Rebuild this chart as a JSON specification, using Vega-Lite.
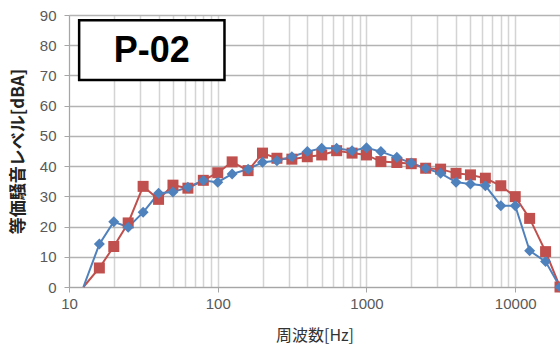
{
  "$schema": "https://vega.github.io/schema/vega-lite/v6.json",
  "autosize": "none",
  "width": 491,
  "height": 272,
  "padding": {"left": 69, "top": 15, "right": 0, "bottom": 62},
  "background": "white",
  "config": {"view": {"stroke": null}, "font": "Liberation Sans"},
  "datasets": {
    "series": [
      {"f": 12.5, "s": "A", "v": 0}, {"f": 16, "s": "A", "v": 6.3}, {"f": 20, "s": "A", "v": 13.4}, {"f": 25, "s": "A", "v": 21.2},
      {"f": 31.5, "s": "A", "v": 33.3}, {"f": 40, "s": "A", "v": 29}, {"f": 50, "s": "A", "v": 33.7}, {"f": 63, "s": "A", "v": 32.7},
      {"f": 80, "s": "A", "v": 35.3}, {"f": 100, "s": "A", "v": 37.8}, {"f": 125, "s": "A", "v": 41.4}, {"f": 160, "s": "A", "v": 38.5},
      {"f": 200, "s": "A", "v": 44.3}, {"f": 250, "s": "A", "v": 42.6}, {"f": 315, "s": "A", "v": 42.3}, {"f": 400, "s": "A", "v": 43.1},
      {"f": 500, "s": "A", "v": 43.7}, {"f": 630, "s": "A", "v": 45.1}, {"f": 800, "s": "A", "v": 44.3}, {"f": 1000, "s": "A", "v": 43.7},
      {"f": 1250, "s": "A", "v": 41.5}, {"f": 1600, "s": "A", "v": 41.2}, {"f": 2000, "s": "A", "v": 40.8}, {"f": 2500, "s": "A", "v": 39.3},
      {"f": 3150, "s": "A", "v": 39}, {"f": 4000, "s": "A", "v": 37.6}, {"f": 5000, "s": "A", "v": 37.1}, {"f": 6300, "s": "A", "v": 36},
      {"f": 8000, "s": "A", "v": 33.5}, {"f": 10000, "s": "A", "v": 29.9}, {"f": 12500, "s": "A", "v": 22.7}, {"f": 16000, "s": "A", "v": 11.7},
      {"f": 20000, "s": "A", "v": 0},
      {"f": 12.5, "s": "B", "v": 0}, {"f": 16, "s": "B", "v": 14.2}, {"f": 20, "s": "B", "v": 21.6}, {"f": 25, "s": "B", "v": 19.8},
      {"f": 31.5, "s": "B", "v": 24.7}, {"f": 40, "s": "B", "v": 31}, {"f": 50, "s": "B", "v": 31.4}, {"f": 63, "s": "B", "v": 33},
      {"f": 80, "s": "B", "v": 35.2}, {"f": 100, "s": "B", "v": 34.7}, {"f": 125, "s": "B", "v": 37.4}, {"f": 160, "s": "B", "v": 39},
      {"f": 200, "s": "B", "v": 41.3}, {"f": 250, "s": "B", "v": 41.8}, {"f": 315, "s": "B", "v": 43.1}, {"f": 400, "s": "B", "v": 44.8},
      {"f": 500, "s": "B", "v": 45.9}, {"f": 630, "s": "B", "v": 45.9}, {"f": 800, "s": "B", "v": 45.1}, {"f": 1000, "s": "B", "v": 46.1},
      {"f": 1250, "s": "B", "v": 44.8}, {"f": 1600, "s": "B", "v": 42.9}, {"f": 2000, "s": "B", "v": 41}, {"f": 2500, "s": "B", "v": 39.3},
      {"f": 3150, "s": "B", "v": 37.6}, {"f": 4000, "s": "B", "v": 34.7}, {"f": 5000, "s": "B", "v": 34.1}, {"f": 6300, "s": "B", "v": 33.5},
      {"f": 8000, "s": "B", "v": 26.9}, {"f": 10000, "s": "B", "v": 26.9}, {"f": 12500, "s": "B", "v": 12}, {"f": 16000, "s": "B", "v": 8.4},
      {"f": 20000, "s": "B", "v": 0}
    ],
    "box": [{"f": 11.7, "f2": 111, "v": 68.5, "v2": 88.3}],
    "tag": [{"f": 36, "v": 78.2, "label": "P-02"}]
  },
  "encoding": {
    "x": {
      "field": "f", "type": "quantitative",
      "scale": {"type": "log", "domain": [10, 20000], "nice": false},
      "title": "周波数[Hz]",
      "axis": {
        "values": [10,20,30,40,50,60,70,80,90,100,200,300,400,500,600,700,800,900,1000,2000,3000,4000,5000,6000,7000,8000,9000,10000,20000],
        "labelExpr": "abs(log(datum.value)/LN10 - round(log(datum.value)/LN10)) < 1e-6 && datum.value < 15000 ? datum.value : ''",
        "labelOverlap": false,
        "grid": true,
        "gridColor": "#d4d4d4",
        "gridWidth": 1.5,
        "domainColor": "#a6a6a6",
        "domainWidth": 1,
        "tickColor": {"condition": {"test": "abs(log(datum.value)/LN10 - round(log(datum.value)/LN10)) < 1e-6", "value": "#a6a6a6"}, "value": "transparent"},
        "tickSize": 5,
        "labelFontSize": 15,
        "labelColor": "#595959",
        "labelPadding": 4,
        "labelFlush": false,
        "titleFontSize": 16,
        "titleFontWeight": "normal",
        "titleColor": "#333333",
        "titleFont": "Noto Sans CJK JP",
        "titlePadding": 16
      }
    },
    "y": {
      "field": "v", "type": "quantitative",
      "scale": {"domain": [0, 90], "nice": false},
      "title": "等価騒音レベル[dBA]",
      "axis": {
        "values": [0,10,20,30,40,50,60,70,80,90],
        "labelOverlap": false,
        "grid": true,
        "gridColor": "#b3b3b3",
        "gridWidth": 1.5,
        "domainColor": "#a6a6a6",
        "tickColor": "#a6a6a6",
        "tickSize": 5,
        "labelFontSize": 15,
        "labelColor": "#595959",
        "labelPadding": 8,
        "titleFontSize": 17,
        "titleFontWeight": "bold",
        "titleColor": "#222222",
        "titleFont": "Noto Sans CJK JP",
        "titlePadding": 12
      }
    }
  },
  "layer": [
    {
      "data": {"name": "series"},
      "mark": {"type": "line", "strokeWidth": 2},
      "encoding": {
        "color": {"field": "s", "type": "nominal", "scale": {"domain": ["A", "B"], "range": ["#c0504d", "#4f81bd"]}, "legend": null},
        "detail": {"field": "s"}
      }
    },
    {
      "data": {"name": "series"},
      "transform": [{"filter": "datum.s === 'A' && datum.f > 13"}],
      "mark": {"type": "point", "shape": "square", "filled": true, "size": 121, "opacity": 1, "color": "#c0504d"}
    },
    {
      "data": {"name": "series"},
      "transform": [{"filter": "datum.s === 'B' && datum.f > 13"}],
      "mark": {"type": "point", "shape": "diamond", "filled": true, "size": 121, "opacity": 1, "color": "#4f81bd"}
    },
    {
      "data": {"name": "box"},
      "mark": {"type": "rect", "fill": "white", "stroke": "black", "strokeWidth": 2.5},
      "encoding": {"x2": {"field": "f2"}, "y2": {"field": "v2"}}
    },
    {
      "data": {"name": "tag"},
      "mark": {"type": "text", "fontSize": 36, "fontWeight": "bold", "font": "Liberation Sans", "color": "black", "align": "center", "baseline": "middle"},
      "encoding": {"text": {"field": "label"}}
    }
  ]
}
